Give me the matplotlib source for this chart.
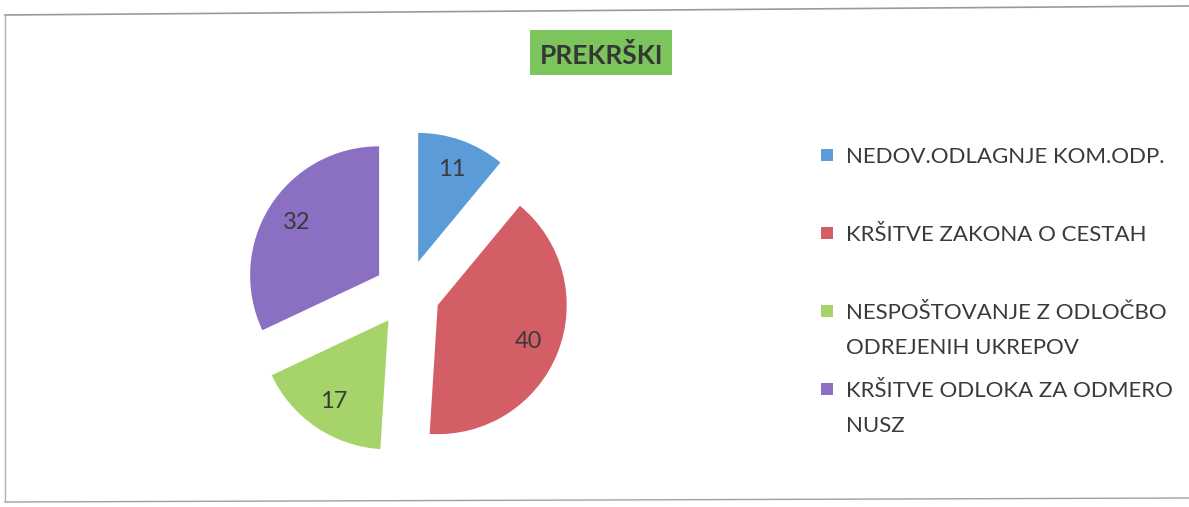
import matplotlib
matplotlib.use("Agg")
import matplotlib.pyplot as plt
from matplotlib.patches import Rectangle
from matplotlib.lines import Line2D

# ---- data ----
title = "PREKRŠKI"
categories = [
    "NEDOV.ODLAGNJE KOM.ODP.",
    "KRŠITVE ZAKONA O CESTAH",
    "NESPOŠTOVANJE Z ODLOČBO\nODREJENIH UKREPOV",
    "KRŠITVE ODLOKA ZA ODMERO\nNUSZ",
]
values = [11, 40, 17, 32]
colors = ["#5b9bd8", "#d45e66", "#a6d46a", "#8a6fc2"]

W, H = 1189, 507
FONT = "Lato"
TXT = "#3a3a3a"

fig = plt.figure(figsize=(W / 100, H / 100), dpi=100)
fig.patch.set_facecolor("white")

def fx(px):
    return px / W

def fy(py):
    return 1 - py / H

# frame (scanned chart border)
fig.add_artist(Line2D([fx(5), fx(1189)], [fy(15), fy(6)], color="#9a9a9a", lw=1.2))
fig.add_artist(Line2D([fx(5), fx(5)], [fy(15), fy(501)], color="#b0b0b0", lw=1.0))
fig.add_artist(Line2D([fx(5), fx(1189)], [fy(502), fy(498)], color="#a0a0a0", lw=1.0))

# pie axes: centre at (407, 293) px, radius 129 px
cx, cy, half = 407, 293, 200
ax = fig.add_axes([fx(cx - half), fy(cy + half), 2 * half / W, 2 * half / H])
total = sum(values)
ax.pie(
    values,
    colors=colors,
    startangle=90,
    counterclock=False,
    explode=[0.256] * len(values),
    radius=1.0,
    autopct=lambda p: f"{p * total / 100:.0f}",
    pctdistance=0.76,
    textprops=dict(fontsize=17, color=TXT, family=FONT),
    wedgeprops=dict(linewidth=0),
)
lim = half / 129
ax.set_xlim(-lim, lim)
ax.set_ylim(-lim, lim)
ax.set_aspect("equal")
ax.axis("off")

# title box
fig.add_artist(Rectangle((fx(530), fy(75)), fx(672) - fx(530), fy(30) - fy(75),
                         facecolor="#7cc55c", edgecolor="none"))
fig.text(fx(602), fy(53), title, ha="center", va="center_baseline",
         fontsize=19, fontweight="bold", color="#363636", family=FONT)

# legend
row0, row_step, line_step = 155, 78, 35
for i, (lab, col) in enumerate(zip(categories, colors)):
    yc = row0 + i * row_step
    fig.add_artist(Rectangle((fx(821), fy(yc + 6)), fx(12), fy(0) - fy(12),
                             facecolor=col, edgecolor="none"))
    for j, line in enumerate(lab.split("\n")):
        fig.text(fx(846), fy(yc + j * line_step + 8), line, ha="left", va="baseline",
                 fontsize=16, color=TXT, family=FONT)

fig.savefig("out.png", dpi=100)
